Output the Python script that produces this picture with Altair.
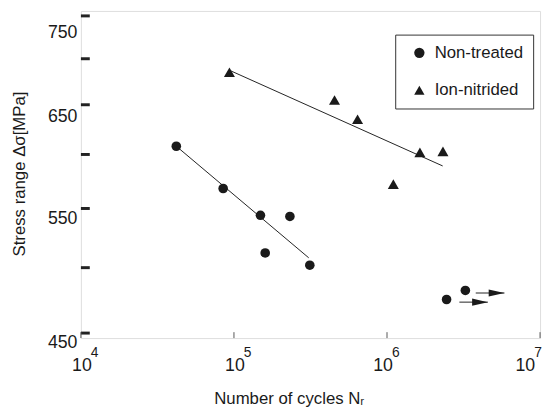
import altair as alt
import pandas as pd

# ---- data ----
groups = ["Non-treated", "Ion-nitrided"]

nt_cycles = [42000, 85000, 149000, 232000, 160000, 313000, 2.45e6, 3.25e6]
nt_stress = [608, 568, 544, 543, 512, 502, 475, 482]

in_cycles = [93400, 454000, 642000, 1.64e6, 2.32e6, 1.10e6]
in_stress = [685, 655, 635, 602, 603, 572]

nt_line_cycles = [42000, 308000]
nt_line_stress = [608, 508]
in_line_cycles = [93800, 2.31e6]
in_line_stress = [687, 589]

arrow_start = [2.97e6, 3.80e6]
arrow_tip = [4.56e6, 5.85e6]
arrow_stress = [473, 480]

y_tick_values = [450, 500, 550, 600, 650, 700, 750]
y_label_values = [450, 550, 650, 750]
x_tick_values = [1e4, 1e5, 1e6, 1e7]
x_tick_base = ["10", "10", "10", "10"]
x_tick_exp = ["4", "5", "6", "7"]

FONT = "Liberation Sans"
INK = "#1a1a1a"
W, H = 466, 332

# ---- tables ----
pts = pd.DataFrame({
    "N": nt_cycles + in_cycles,
    "S": nt_stress + in_stress,
    "g": [groups[0]] * len(nt_cycles) + [groups[1]] * len(in_cycles),
})
lines = pd.DataFrame({
    "N": nt_line_cycles + in_line_cycles,
    "S": nt_line_stress + in_line_stress,
    "g": [groups[0]] * 2 + [groups[1]] * 2,
})
arrows = pd.DataFrame({"N": arrow_start, "N2": arrow_tip, "S": arrow_stress})
heads = pd.DataFrame({"N": arrow_tip, "S": arrow_stress})
yt = pd.DataFrame({"S": y_tick_values})
xt = pd.DataFrame({"N": x_tick_values, "b": x_tick_base, "e": x_tick_exp})

xscale = alt.Scale(type="log", domain=[1e4, 1e7], nice=False)
yscale = alt.Scale(type="log", domain=[446.4, 756], nice=False, zero=False)

xaxis = alt.Axis(
    values=x_tick_values, ticks=False, domain=False, grid=False, labels=False,
    title="Number of cycles Nᵣ", titleFont=FONT, titleFontSize=17,
    titleFontWeight="normal", titleColor=INK, titleX=211, titleY=66,
    titleBaseline="alphabetic",
)
yaxis = alt.Axis(
    values=y_label_values, ticks=False, domain=False, grid=False,
    labelFont=FONT, labelFontSize=18, labelColor=INK, labelPadding=4,
    labelOffset=alt.ExprRef(expr="datum.value == 750 ? 17 : datum.value == 650 ? 12 : datum.value == 550 ? 10 : 10"),
    labelFlush=False, labelOverlap=False,
    title="Stress range Δσ[MPa]", titleFont=FONT, titleFontSize=17,
    titleFontWeight="normal", titleColor=INK, titleX=-57, titleY=165,
    titleBaseline="alphabetic", titleAngle=270,
)

X = alt.X("N:Q", scale=xscale, axis=xaxis)
Y = alt.Y("S:Q", scale=yscale, axis=yaxis)

shape_enc = alt.Shape(
    "g:N", scale=alt.Scale(domain=groups, range=["circle", "triangle-up"]),
    legend=alt.Legend(
        orient="none", legendX=319, legendY=24, title=None,
        strokeColor="#333", fillColor="white", padding=10,
        labelFont=FONT, labelFontSize=17, labelColor=INK,
        labelOffset=7, labelLimit=0, rowPadding=20,
        symbolSize=110, symbolFillColor=INK, symbolStrokeColor=INK,
        symbolStrokeWidth=0, symbolOffset=6))

circles = alt.Chart(pts).transform_filter(f"datum.g == '{groups[0]}'").mark_point(
    filled=True, opacity=1, color=INK, size=95).encode(x=X, y=Y, shape=shape_enc)
triangles = alt.Chart(pts).transform_filter(f"datum.g == '{groups[1]}'").mark_point(
    filled=True, opacity=1, color=INK, size=125).encode(x=X, y=Y, shape=shape_enc)

fit = alt.Chart(lines).mark_line(color="#222", strokeWidth=1).encode(x=X, y=Y, detail="g:N")

shafts = alt.Chart(arrows).mark_rule(color="#222", strokeWidth=1).encode(x=X, x2="N2:Q", y=Y)
tips = alt.Chart(heads).mark_point(
    filled=True, opacity=1, color=INK, size=256,
    shape="M0,0 L-2,-0.45 L-2,0.45 Z").encode(x=X, y=Y)

yticks = alt.Chart(yt).mark_rule(color="#222", strokeWidth=3).encode(
    y=Y, x=alt.value(0), x2=alt.value(9))
xticks = alt.Chart(xt).mark_rule(color="#555", strokeWidth=1).encode(
    x=X, y=alt.value(H), y2=alt.value(H - 6))

base_txt = dict(font=FONT, color=INK, baseline="alphabetic", clip=False)
lab_in = alt.Chart(xt).transform_filter("datum.N < 1e6")
lab_6 = alt.Chart(xt).transform_filter("datum.N == 1e6")
lab_end = alt.Chart(xt).transform_filter("datum.N >= 1e7")


def labels(src, shift):
    b = src.mark_text(fontSize=18, align="center", dx=shift, **base_txt).encode(
        x=X, y=alt.value(H + 33), text="b:N")
    e = src.mark_text(fontSize=14, align="left", dx=shift + 9, **base_txt).encode(
        x=X, y=alt.value(H + 19), text="e:N")
    return [b, e]


xlabels = labels(lab_in, 1) + labels(lab_6, -4) + labels(lab_end, -15)

chart = alt.layer(fit, shafts, tips, yticks, xticks, *xlabels, circles, triangles).properties(
    width=W, height=H,
    autosize=alt.AutoSizeParams(type="none"),
    padding={"left": 74, "top": 0, "right": 4, "bottom": 70},
).configure_view(stroke="#333", strokeWidth=2).configure(background="white")

chart.save("out.html", embed_options={"renderer": "svg", "actions": False})
